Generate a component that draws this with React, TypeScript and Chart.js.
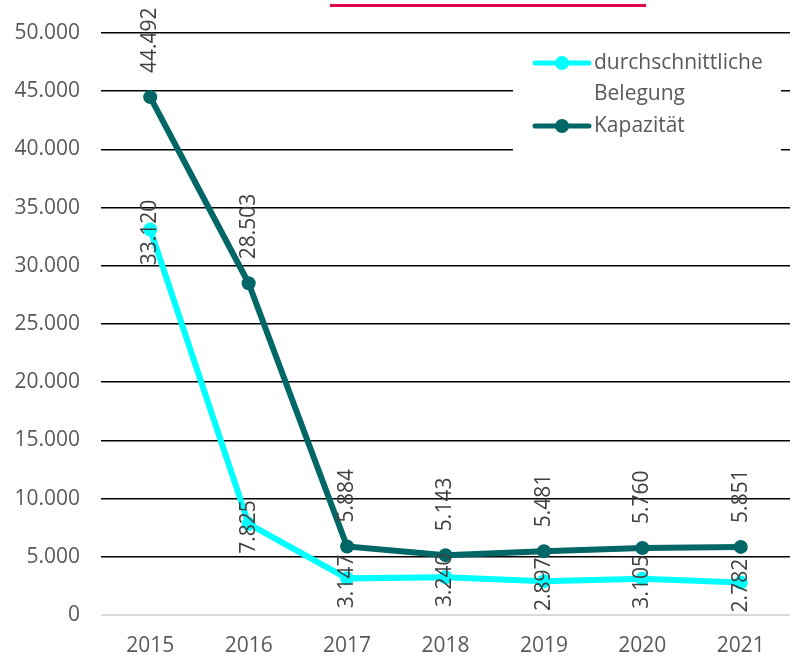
import React, { useEffect, useRef } from "react";
import { Chart, registerables } from "chart.js";

Chart.register(...registerables);

const years = ["2015", "2016", "2017", "2018", "2019", "2020", "2021"];
const belegungLabel = "durchschnittliche Belegung";
const kapazitaetLabel = "Kapazität";
const belegung = [33120, 7825, 3147, 3240, 2897, 3105, 2782];
const kapazitaet = [44492, 28503, 5884, 5143, 5481, 5760, 5851];
const yMin = 0;
const yMax = 50000;
const yStep = 5000;

const CYAN = "#00FFFF";
const TEAL = "#006666";
const FONT = "'Open Sans', sans-serif";
const FS = 21;

const fmt = (v: number) =>
  String(Math.round(v)).replace(/\B(?=(\d{3})+(?!\d))/g, ".");

const bgPlugin = {
  id: "bg",
  beforeDraw(chart: any) {
    const ctx = chart.ctx;
    ctx.save();
    ctx.fillStyle = "#ffffff";
    ctx.fillRect(0, 0, chart.width, chart.height);
    // title underline (title itself lies above the visible area)
    ctx.fillStyle = "#e3004f";
    ctx.fillRect(330, 4, 316, 3);
    ctx.restore();
  },
};

const labelPlugin = {
  id: "valueLabels",
  afterDatasetsDraw(chart: any) {
    const ctx = chart.ctx;
    ctx.save();
    ctx.font = `${FS}px ${FONT}`;
    ctx.fillStyle = "#404040";
    chart.data.datasets.forEach((ds: any, i: number) => {
      const meta = chart.getDatasetMeta(i);
      meta.data.forEach((pt: any, j: number) => {
        const v = ds.data[j];
        ctx.save();
        if (i === 1) {
          ctx.translate(pt.x, pt.y - 24);
          ctx.rotate(-Math.PI / 2);
          ctx.textAlign = "left";
        } else {
          ctx.translate(pt.x, pt.y + 3);
          ctx.rotate(-Math.PI / 2);
          ctx.textAlign = "center";
        }
        ctx.textBaseline = "middle";
        ctx.fillText(fmt(v), 0, 0);
        ctx.restore();
      });
    });
    ctx.restore();
  },
};

const legendPlugin = {
  id: "customLegend",
  afterDraw(chart: any) {
    const ctx = chart.ctx;
    ctx.save();
    ctx.fillStyle = "#ffffff";
    ctx.fillRect(513, 42, 268, 113);
    ctx.font = `${FS}px ${FONT}`;
    ctx.textBaseline = "middle";
    ctx.textAlign = "left";
    let y = 63;
    const lineH = 31.5;
    chart.data.datasets.forEach((ds: any) => {
      const color = ds.borderColor;
      ctx.strokeStyle = color;
      ctx.lineWidth = 5;
      ctx.lineCap = "round";
      ctx.beginPath();
      ctx.moveTo(535, y);
      ctx.lineTo(589, y);
      ctx.stroke();
      ctx.fillStyle = color;
      ctx.beginPath();
      ctx.arc(562, y, 7, 0, Math.PI * 2);
      ctx.fill();
      const words = String(ds.label).split(" ");
      const lines: string[] = [];
      let cur = "";
      words.forEach((w) => {
        const test = cur ? cur + " " + w : w;
        if (cur && ctx.measureText(test).width > 180) {
          lines.push(cur);
          cur = w;
        } else cur = test;
      });
      if (cur) lines.push(cur);
      ctx.fillStyle = "#595959";
      lines.forEach((ln) => {
        ctx.fillText(ln, 594, y);
        y += lineH;
      });
    });
    ctx.restore();
  },
};

export default function App() {
  const ref = useRef<HTMLCanvasElement | null>(null);
  useEffect(() => {
    if (!ref.current) return;
    const chart = new Chart(ref.current, {
      type: "line",
      data: {
        labels: years,
        datasets: [
          {
            label: belegungLabel,
            data: belegung,
            borderColor: CYAN,
            backgroundColor: CYAN,
            borderWidth: 6,
            pointRadius: 7,
            pointBorderWidth: 0,
            pointBackgroundColor: CYAN,
            tension: 0,
          },
          {
            label: kapazitaetLabel,
            data: kapazitaet,
            borderColor: TEAL,
            backgroundColor: TEAL,
            borderWidth: 6,
            pointRadius: 7,
            pointBorderWidth: 0,
            pointBackgroundColor: TEAL,
            tension: 0,
          },
        ],
      },
      options: {
        responsive: false,
        animation: false,
        devicePixelRatio: 1,
        layout: { padding: { top: 33, left: 0, right: 0, bottom: 0 } },
        plugins: {
          legend: { display: false },
          tooltip: { enabled: false },
          title: { display: false },
        },
        scales: {
          x: {
            offset: true,
            grid: { display: false, drawTicks: false },
            border: { display: false },
            ticks: {
              color: "#595959",
              font: { family: FONT, size: FS },
              padding: 18,
              maxRotation: 0,
            },
            afterFit: (s: any) => {
              s.height = 42;
              s.paddingLeft = 0;
              s.paddingRight = 0;
            },
          },
          y: {
            min: yMin,
            max: yMax,
            border: { display: false },
            grid: {
              drawTicks: false,
              color: (c: any) => (c.tick && c.tick.value === 0 ? "#d9d9d9" : "#000000"),
              lineWidth: (c: any) => (c.tick && c.tick.value === 0 ? 2 : 1.5),
            },
            ticks: {
              stepSize: yStep,
              color: "#595959",
              font: { family: FONT, size: FS },
              padding: 21,
              callback: (v: any) => fmt(Number(v)),
            },
            afterFit: (s: any) => {
              s.width = 101;
              s.paddingTop = 0;
              s.paddingBottom = 0;
            },
          },
        },
      },
      plugins: [bgPlugin, labelPlugin, legendPlugin],
    });
    return () => chart.destroy();
  }, []);
  return (
    <div
      style={{
        position: "fixed",
        left: 0,
        top: 0,
        width: 792,
        height: 657,
        overflow: "hidden",
        background: "#fff",
      }}
    >
      <canvas ref={ref} width={797} height={657} style={{ display: "block", width: 797, height: 657 }} />
    </div>
  );
}
